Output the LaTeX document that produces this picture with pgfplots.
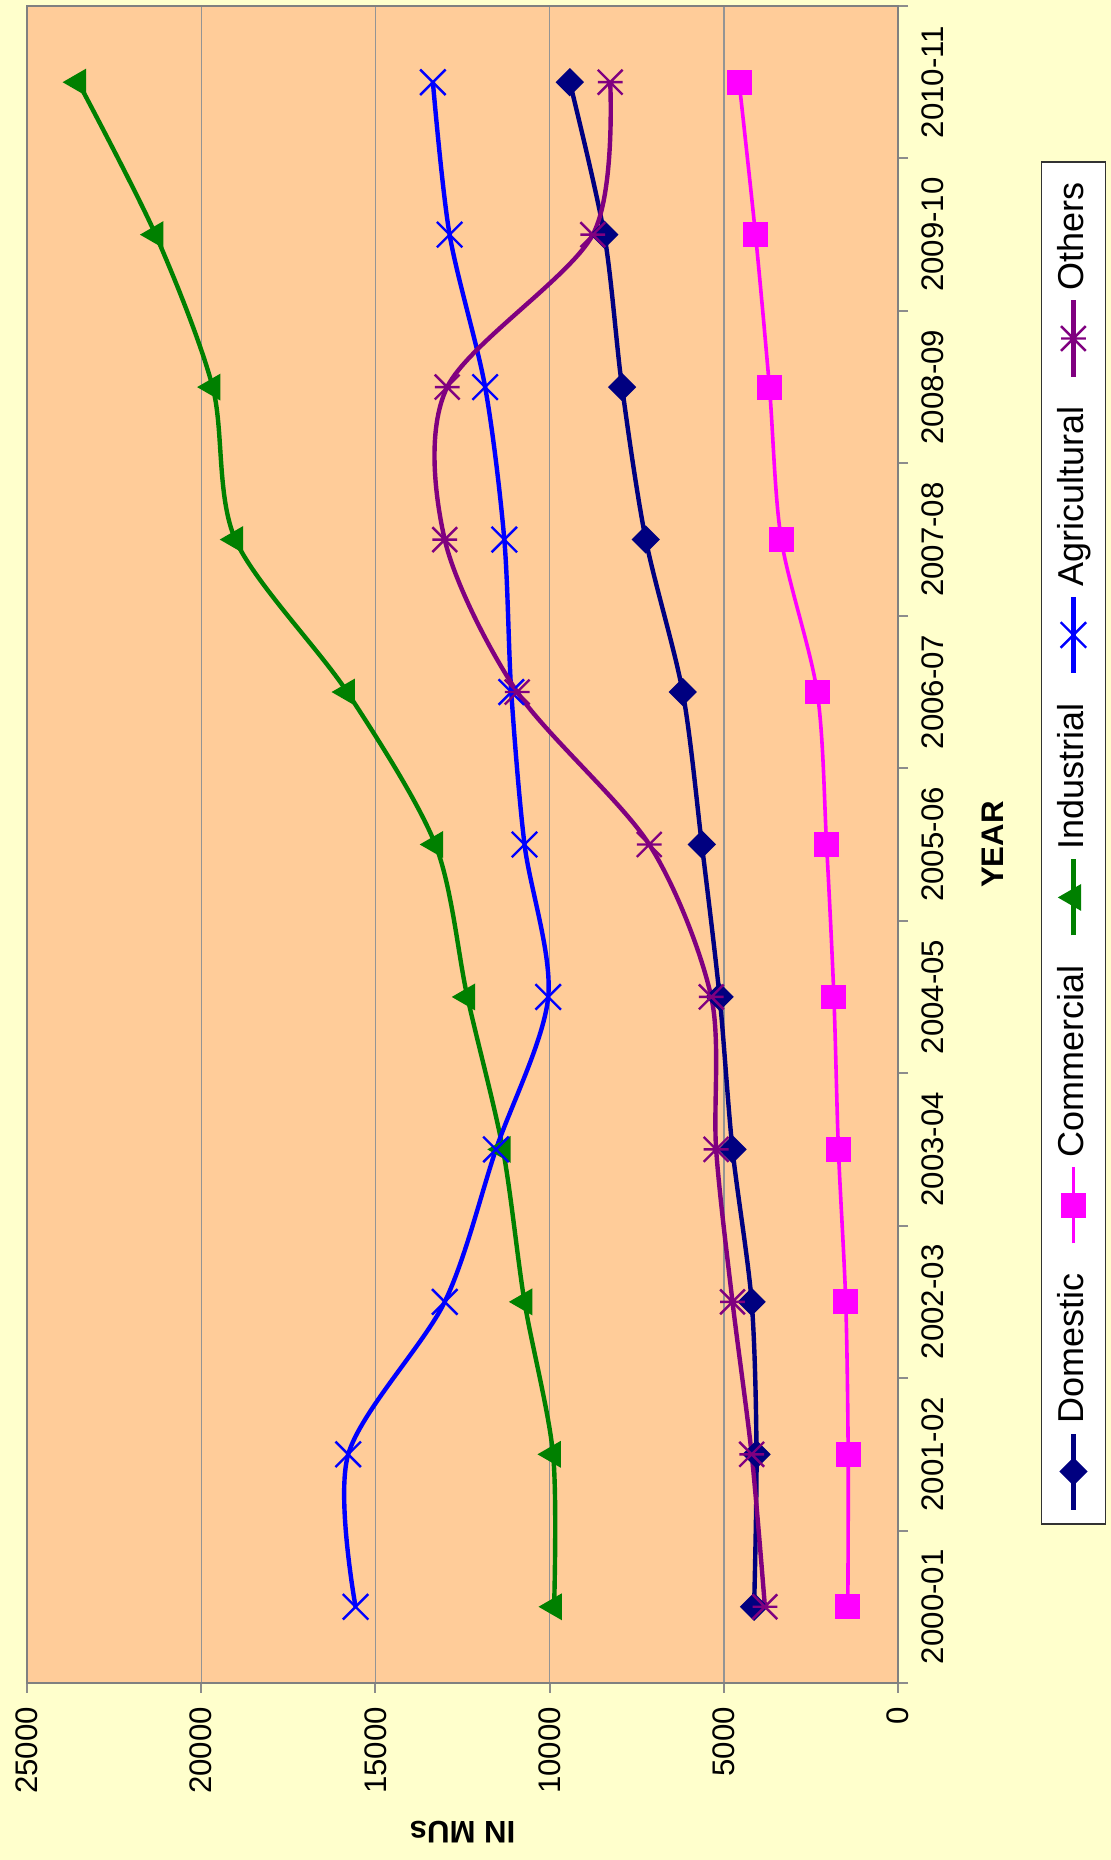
\documentclass[border=0pt]{standalone}
\usepackage{fontspec}
\setmainfont{Liberation Sans}
\usepackage{graphicx}
\usepackage{pgfplots}
\pgfplotsset{compat=1.18}

\definecolor{outerbg}{HTML}{FFFFCC}
\definecolor{plotbg}{HTML}{FFCC99}
\definecolor{domc}{HTML}{000080}
\definecolor{comc}{HTML}{FF00FF}
\definecolor{indc}{HTML}{008000}
\definecolor{agrc}{HTML}{0000FF}
\definecolor{othc}{HTML}{800080}

% x with a bar through it, like the spreadsheet "star" marker
\pgfdeclareplotmark{xstar}{%
  \pgfpathmoveto{\pgfqpoint{-\pgfplotmarksize}{-\pgfplotmarksize}}%
  \pgfpathlineto{\pgfqpoint{\pgfplotmarksize}{\pgfplotmarksize}}%
  \pgfpathmoveto{\pgfqpoint{-\pgfplotmarksize}{\pgfplotmarksize}}%
  \pgfpathlineto{\pgfqpoint{\pgfplotmarksize}{-\pgfplotmarksize}}%
  \pgfpathmoveto{\pgfqpoint{0pt}{-\pgfplotmarksize}}%
  \pgfpathlineto{\pgfqpoint{0pt}{\pgfplotmarksize}}%
  \pgfusepathqstroke}

\begin{document}
\rotatebox{90}{%
\begin{tikzpicture}
\useasboundingbox (0,0) rectangle (465pt,277.75pt);
\fill[outerbg] (0,0) rectangle (465pt,277.75pt);
\begin{axis}[
    at={(44.25pt,53.25pt)}, anchor=south west,
    width=419.25pt, height=217.75pt, scale only axis,
    axis background/.style={fill=plotbg},
    axis line style={draw=black!50, line width=0.6pt},
    xmin=-0.5, xmax=10.5,
    ymin=0, ymax=25000,
    xtick={-0.5,0.5,...,10.5},
    x tick label as interval,
    xticklabels={2000-01,2001-02,2002-03,2003-04,2004-05,2005-06,2006-07,2007-08,2008-09,2009-10,2010-11},
    ytick={0,5000,...,25000},
    xtick pos=bottom, ytick pos=left,
    scaled y ticks=false,
    /pgf/number format/1000 sep={},
    /pgf/number format/assume math mode=true,
    tick align=outside,
    major tick length=2.5pt,
    tick style={draw=black!45, line width=0.5pt},
    tick label style={font=\fontsize{7.8}{9}\selectfont},
    ymajorgrids,
    grid style={draw=black!42, line width=0.35pt},
    xlabel={YEAR},
    ylabel={IN MUs},
    label style={font=\fontsize{7.8}{9}\selectfont\bfseries},
    xlabel style={at={(axis description cs:0.5,-0.1091)}, anchor=center},
    ylabel style={at={(axis description cs:-0.0889,0.5)}, anchor=center},
    legend columns=5,
    legend style={at={(axis description cs:0.5009,-0.2014)}, anchor=center,
        draw=black!80, line width=0.4pt, fill=white,
        font=\fontsize{9}{11}\selectfont,
        /tikz/every even column/.append style={column sep=5pt}},
    legend image code/.code={\draw[mark repeat=2,mark phase=2] plot coordinates {(0pt,0pt) (9.5pt,0pt) (19pt,0pt)};},
]
\addplot[domc, line width=1.1pt, smooth, mark=square*, mark size=2.3pt,
    mark options={solid, rotate=45, line width=0.4pt}] coordinates {
    (0,4130) (1,4060) (2,4200) (3,4750) (4,5120) (5,5630)
    (6,6180) (7,7240) (8,7920) (9,8430) (10,9420)};
\addlegendentry{Domestic}
\addplot[comc, line width=0.9pt, smooth, mark=square*, mark size=2.9pt,
    mark options={solid, line width=0.4pt}] coordinates {
    (0,1440) (1,1430) (2,1500) (3,1710) (4,1840) (5,2050)
    (6,2320) (7,3350) (8,3690) (9,4090) (10,4560)};
\addlegendentry{Commercial}
\addplot[indc, line width=1.1pt, smooth, mark=triangle*, mark size=3.5pt,
    mark options={solid, line width=0.4pt}] coordinates {
    (0,9870) (1,9900) (2,10720) (3,11340) (4,12360) (5,13280)
    (6,15810) (7,19020) (8,19670) (9,21310) (10,23530)};
\addlegendentry{Industrial}
\addplot[agrc, line width=1.1pt, smooth, mark=x, mark size=4.5pt,
    mark options={solid, line width=0.6pt}] coordinates {
    (0,15570) (1,15780) (2,13010) (3,11540) (4,10040) (5,10720)
    (6,11100) (7,11300) (8,11850) (9,12870) (10,13350)};
\addlegendentry{Agricultural}
\addplot[othc, line width=1.1pt, smooth, mark=xstar, mark size=3.1pt,
    mark options={solid, line width=0.6pt}] coordinates {
    (0,3820) (1,4200) (2,4750) (3,5220) (4,5360) (5,7140)
    (6,10930) (7,13010) (8,12940) (9,8760) (10,8260)};
\addlegendentry{Others}
\end{axis}
\end{tikzpicture}}
\end{document}
